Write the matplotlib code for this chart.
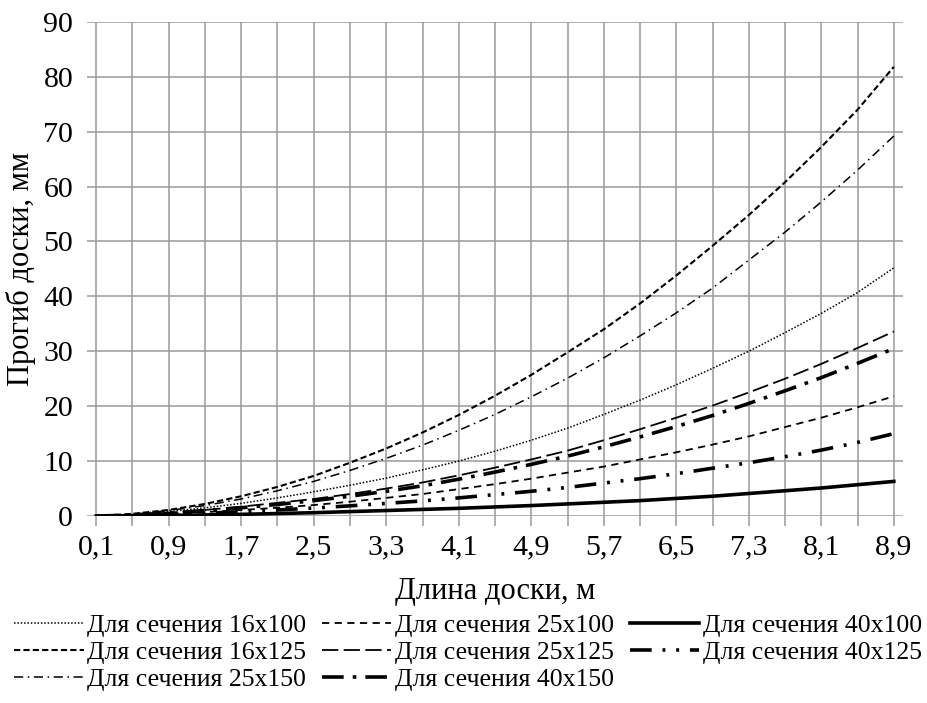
import matplotlib
matplotlib.use('Agg')
import matplotlib.pyplot as plt

plt.rcParams['font.family'] = ['Liberation Serif', 'DejaVu Serif']

# длина доски, м
length = [0.1, 0.5, 0.9, 1.3, 1.7, 2.1, 2.5, 2.9, 3.3, 3.7, 4.1, 4.5,
          4.9, 5.3, 5.7, 6.1, 6.5, 6.9, 7.3, 7.7, 8.1, 8.5, 8.9]

# прогиб, мм
s16x100 = [0, 0.3, 0.8, 1.5, 2.3, 3.3, 4.4, 5.6, 6.9, 8.4, 10.0, 11.8,
           13.8, 16.0, 18.5, 21.1, 23.9, 26.9, 30.0, 33.4, 36.9, 40.7, 45.2]
s16x125 = [0, 0.4, 1.1, 2.2, 3.6, 5.3, 7.3, 9.7, 12.3, 15.2, 18.4, 21.9,
           25.7, 29.8, 34.0, 38.7, 43.8, 49.2, 54.8, 60.8, 67.2, 74.0, 81.8]
s25x150 = [0, 0.3, 1.0, 1.9, 3.1, 4.6, 6.3, 8.3, 10.5, 12.9, 15.6, 18.5,
           21.7, 25.1, 28.8, 32.8, 37.0, 41.5, 46.6, 51.7, 57.2, 63.0, 69.2]
s25x100 = [0, 0.1, 0.35, 0.7, 1.1, 1.5, 2.0, 2.6, 3.3, 4.0, 4.9, 5.8,
           6.8, 7.9, 9.0, 10.3, 11.6, 13.0, 14.5, 16.2, 17.9, 19.8, 21.8]
s25x125 = [0, 0.2, 0.6, 1.1, 1.7, 2.4, 3.1, 4.0, 5.0, 6.1, 7.4, 8.8,
           10.3, 11.9, 13.8, 15.8, 17.9, 20.1, 22.5, 25.0, 27.7, 30.6, 33.6]
s40x150 = [0, 0.15, 0.5, 1.0, 1.5, 2.1, 2.8, 3.6, 4.5, 5.5, 6.7, 8.0,
           9.4, 10.9, 12.6, 14.4, 16.3, 18.3, 20.5, 22.8, 25.2, 27.8, 30.5]
s40x100 = [0, 0.03, 0.1, 0.2, 0.3, 0.45, 0.6, 0.8, 1.0, 1.2, 1.4, 1.65,
           1.9, 2.2, 2.5, 2.8, 3.2, 3.6, 4.1, 4.6, 5.1, 5.7, 6.3]
s40x125 = [0, 0.08, 0.25, 0.5, 0.8, 1.1, 1.45, 1.85, 2.3, 2.75, 3.3, 3.9,
           4.5, 5.2, 6.0, 6.8, 7.7, 8.7, 9.7, 10.8, 12.0, 13.4, 15.0]

xticks = [0.1, 0.9, 1.7, 2.5, 3.3, 4.1, 4.9, 5.7, 6.5, 7.3, 8.1, 8.9]
xlabels = ['0,1', '0,9', '1,7', '2,5', '3,3', '4,1', '4,9', '5,7', '6,5', '7,3', '8,1', '8,9']
xminor = [0.5, 1.3, 2.1, 2.9, 3.7, 4.5, 5.3, 6.1, 6.9, 7.7, 8.5]
yticks = [0, 10, 20, 30, 40, 50, 60, 70, 80, 90]

fig = plt.figure(figsize=(9.27, 7.03), dpi=100)
ax = fig.add_axes([0.094, 0.266, 0.880, 0.703])

grid_c = '#9a9a9a'

# legend order (column-major for 3 columns)
ax.plot(length, s16x100, color='k', lw=1.1, ls=(0, (1, 1.2)), label='Для сечения 16x100')
ax.plot(length, s16x125, color='k', lw=1.5, ls=(0, (3, 1.5)), label='Для сечения 16x125')
ax.plot(length, s25x150, color='k', lw=1.1, ls=(0, (6, 3, 1, 3)), label='Для сечения 25x150')
ax.plot(length, s25x100, color='k', lw=1.3, ls=(0, (4, 3)), label='Для сечения 25x100')
ax.plot(length, s25x125, color='k', lw=1.3, ls=(0, (9, 3)), label='Для сечения 25x125')
ax.plot(length, s40x150, color='k', lw=2.6, ls=(0, (6, 2.5, 1, 2.5)), label='Для сечения 40x150')
ax.plot(length, s40x100, color='k', lw=2.6, ls='-', label='Для сечения 40x100')
ax.plot(length, s40x125, color='k', lw=2.6, ls=(0, (6, 3, 0.8, 3, 0.8, 3)), label='Для сечения 40x125')

ax.set_xlim(0.0, 9.0)
ax.set_ylim(0, 90)
ax.set_xticks(xticks)
ax.set_xticklabels(xlabels)
ax.set_xticks(xminor, minor=True)
ax.set_yticks(yticks)

for s in ax.spines.values():
    s.set_visible(False)
ax.grid(True, which='both', color=grid_c, lw=1.1)
ax.set_axisbelow(True)
ax.tick_params(axis='x', which='both', length=7, color=grid_c, width=1.1, labelsize=21.5, pad=6)
ax.tick_params(axis='y', length=0, labelsize=21.5, pad=10)

ax.set_xlabel('Длина доски, м', fontsize=22, labelpad=12)
ax.set_ylabel('Прогиб доски, мм', fontsize=22, labelpad=5)

fig.legend(loc='upper center', bbox_to_anchor=(0.505, 0.152),
           ncol=3, frameon=False, fontsize=18.5, handlelength=2.7,
           handletextpad=0.15, columnspacing=0.6, labelspacing=0.15,
           borderpad=0.2)

fig.savefig('out.png', dpi=100)
